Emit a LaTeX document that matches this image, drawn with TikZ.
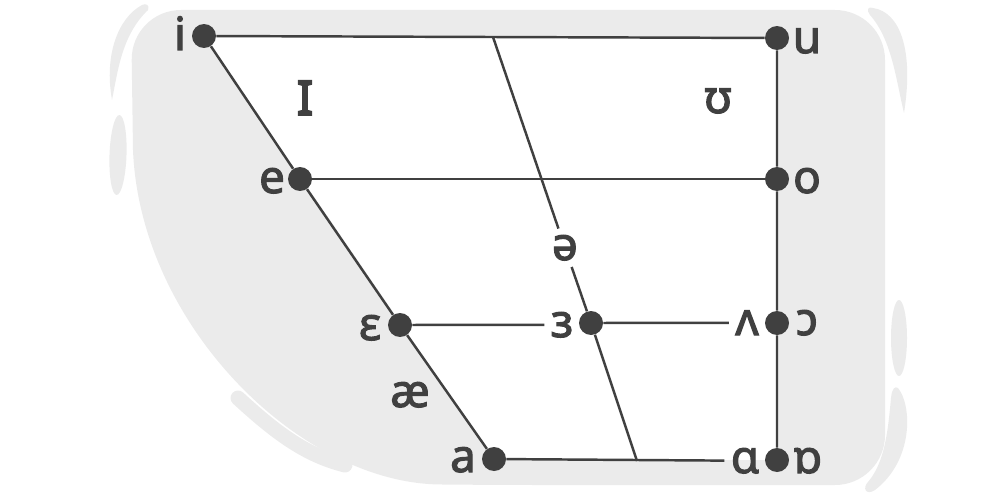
\documentclass[tikz,border=0pt]{standalone}
\usepackage{fontspec}
\setmainfont{Noto Sans}[FakeBold=2.5]
\usetikzlibrary{backgrounds}
\definecolor{ink}{HTML}{404040}
\definecolor{paper}{HTML}{EBEBEB}
\begin{document}
\begin{tikzpicture}[x=0.02cm,y=-0.02cm,
  dot/.style={circle,fill=ink,minimum size=0.48cm,inner sep=0pt},
  lbl/.style={text=ink,font=\fontsize{26}{30}\selectfont,inner sep=3.5pt,anchor=base},
  edge/.style={draw=ink,line width=1.4pt}]
\useasboundingbox (0,0) rectangle (1000,500);

\foreach \n/\x/\y in {i/204/36,u/777/38,e/300/179,o/777/179,eps/400/325,oo/777/323,a/494/459,ob/777/460,er/591/323}
  \node[dot] (\n) at (\x,\y) {};

\def\vowels{li/180/50/i,lu/807/53/u,le/272/193/e,lo/807/193/o,leps/370/340/ɛ,la/463/472/a,lv/747/335/ʌ,loo/807/335/ɔ,lal/745/473/ɑ,lob/808/473/ɒ,lsch/565/260/ə,ler/562/337/ɜ,lU/718/113/ʊ,lae/410/407/æ}
\foreach \n/\x/\y/\t in \vowels
  \node[lbl] (\n) at (\x,\y) {\t};
\node[lbl] (lI) at (305,115) {\scalebox{1.15}[1.4]{ɪ}};

\coordinate (top) at (493,37);
\coordinate (bot) at (637,461);

\draw[edge] (i) -- (u) -- (o) -- (oo) -- (ob);
\draw[edge] (i) -- (e) -- (eps) -- (a);
\draw[edge] (e) -- (o);
\draw[edge] (eps) -- (ler);
\draw[edge] (er) -- (lv);
\draw[edge] (a) -- (lal);
\draw[edge] (top) -- (lsch);
\draw[edge] (lsch) -- (er) -- (bot);

\begin{pgfonlayer}{background}
\fill[paper] (490,485) .. controls (300,483) and (140,325) .. (133,150)
  [rounded corners=1cm] -- (131,10) -- (885,10) -- (885,485) -- cycle;
\fill[white] (i.center) -- (u.center) -- (ob.center) -- (a.center) -- cycle;
% strokes round the frame
\fill[paper] (142,5) .. controls (118,18) and (104,55) .. (112,100)
  .. controls (118,70) and (122,35) .. (148,10) .. controls (150,5) and (146,3) .. (142,5);
\fill[paper,rotate around={-2:(118,155)}] (118,155) ellipse [x radius=8.5,y radius=40];
\fill[paper] (873,8) .. controls (900,12) and (914,50) .. (904,113)
  .. controls (896,80) and (892,40) .. (870,15) .. controls (866,10) and (868,6) .. (873,8);
\fill[paper] (899,338) ellipse [x radius=8,y radius=38];
\fill[paper] (898,388) .. controls (912,405) and (914,460) .. (875,490)
  .. controls (866,496) and (862,488) .. (868,482) .. controls (885,462) and (888,430) .. (891,398)
  .. controls (892,388) and (895,386) .. (898,388);
\draw[paper,line width=0.3cm,line cap=round] (238,398) .. controls (275,432) and (305,455) .. (345,465);
\end{pgfonlayer}
\end{tikzpicture}
\end{document}
